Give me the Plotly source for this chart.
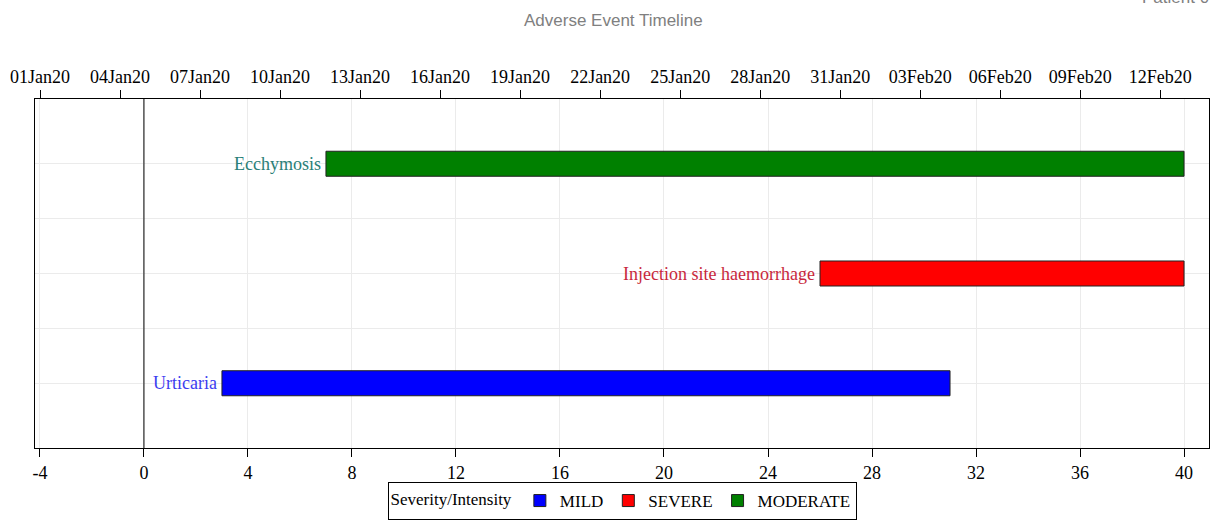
import plotly.graph_objects as go
import pandas as pd

# ---- data ----
events = ["Urticaria", "Injection site haemorrhage", "Ecchymosis"]
event_pos = [1, 2, 3]
severity = ["MILD", "SEVERE", "MODERATE"]
start_day = [3, 26, 7]
end_day = [31, 40, 40]
sev_colors = {"MILD": "#0000FF", "SEVERE": "#FF0000", "MODERATE": "#008000"}
label_colors = ["#3c3cf0", "#c8283c", "#2a8078"]

bottom_ticks = list(range(-4, 41, 4))
bottom_tick_text = [str(v) for v in bottom_ticks]
ref_date = "2020-01-01"
x_range = [-4.19, 40.96]
date_range_days = [-0.19, 43.83]

SERIF = "Liberation Serif, Times New Roman, serif"
SANS = "Liberation Sans, Arial, sans-serif"

W, H = 1211, 521
L, R, T, B = 35, 2, 99, 73
pw, ph = W - L - R, H - T - B

fig = go.Figure()

for sev in ["MILD", "SEVERE", "MODERATE"]:
    idx = [i for i, s in enumerate(severity) if s == sev]
    fig.add_trace(go.Bar(
        orientation="h",
        y=[event_pos[i] for i in idx],
        x=[end_day[i] - start_day[i] for i in idx],
        base=[start_day[i] for i in idx],
        width=0.228,
        marker=dict(color=sev_colors[sev], line=dict(color="#222222", width=1)),
        name=sev,
        hoverinfo="skip",
    ))

ref = pd.Timestamp(ref_date)
d0 = ref + pd.Timedelta(days=date_range_days[0])
d1 = ref + pd.Timedelta(days=date_range_days[1])
fig.add_trace(go.Scatter(
    x=[d0, d1], y=[1, 1], xaxis="x2", mode="markers",
    marker=dict(opacity=0), showlegend=False, hoverinfo="skip",
))

for i, ev in enumerate(events):
    fig.add_annotation(
        x=start_day[i], y=event_pos[i], text=ev, showarrow=False,
        xanchor="right", yanchor="middle", xshift=-3,
        font=dict(family=SERIF, size=18, color=label_colors[i]),
    )

fig.add_shape(type="line", x0=0, x1=0, y0=0, y1=1, xref="x", yref="paper",
              line=dict(color="black", width=1))

fig.add_annotation(
    text="Adverse Event Timeline", x=(613 - L) / pw, y=(H - B - 20) / ph,
    xref="paper", yref="paper", yanchor="middle",
    showarrow=False, font=dict(family=SANS, size=17, color="#808080"),
)

fig.add_annotation(
    text="Patient 0", x=(1211 - L) / pw, y=(H - B - 9) / ph, xref="paper", yref="paper",
    xanchor="right", yanchor="bottom", showarrow=False,
    font=dict(family=SANS, size=17, color="#808080"),
)

fig.update_layout(
    width=W, height=H,
    margin=dict(l=L, r=R, t=T, b=B, autoexpand=False),
    paper_bgcolor="white", plot_bgcolor="white",
    barmode="overlay",
    xaxis=dict(
        range=x_range, tickvals=bottom_ticks, ticktext=bottom_tick_text,
        ticks="outside", ticklen=8, automargin=False,
        tickcolor="black", showline=True, linecolor="black", linewidth=1, mirror=True,
        showgrid=True, gridcolor="#ebebeb", zeroline=False,
        tickfont=dict(family=SERIF, size=18, color="black"),
    ),
    xaxis2=dict(
        type="date", overlaying="x", side="top", range=[d0, d1],
        tick0=ref_date, dtick=3 * 86400000, tickformat="%d%b%y",
        ticks="outside", ticklen=8, tickcolor="black", automargin=False,
        showline=True, linecolor="black", linewidth=1, showgrid=False, zeroline=False,
        tickfont=dict(family=SERIF, size=18, color="black"),
    ),
    yaxis=dict(
        range=[0.41, 3.59], tickvals=[1, 1.5, 2, 2.5, 3], showticklabels=False,
        ticks="", showline=True, linecolor="black", linewidth=1, mirror=True,
        showgrid=True, gridcolor="#ebebeb", zeroline=False, automargin=False,
    ),
    legend=dict(
        orientation="h", x=0.5, xanchor="center", y=-(B - 1) / ph, yanchor="bottom",
        title=dict(text="Severity/Intensity", font=dict(family=SERIF, size=17, color="black")),
        font=dict(family=SERIF, size=17, color="black"),
        bordercolor="black", borderwidth=1, bgcolor="white",
        traceorder="normal",
    ),
    showlegend=True,
)

fig.write_html(
    "out.html",
    config={"displayModeBar": False},
    post_script="document.body.style.margin='0';document.body.style.overflow='hidden';",
)
